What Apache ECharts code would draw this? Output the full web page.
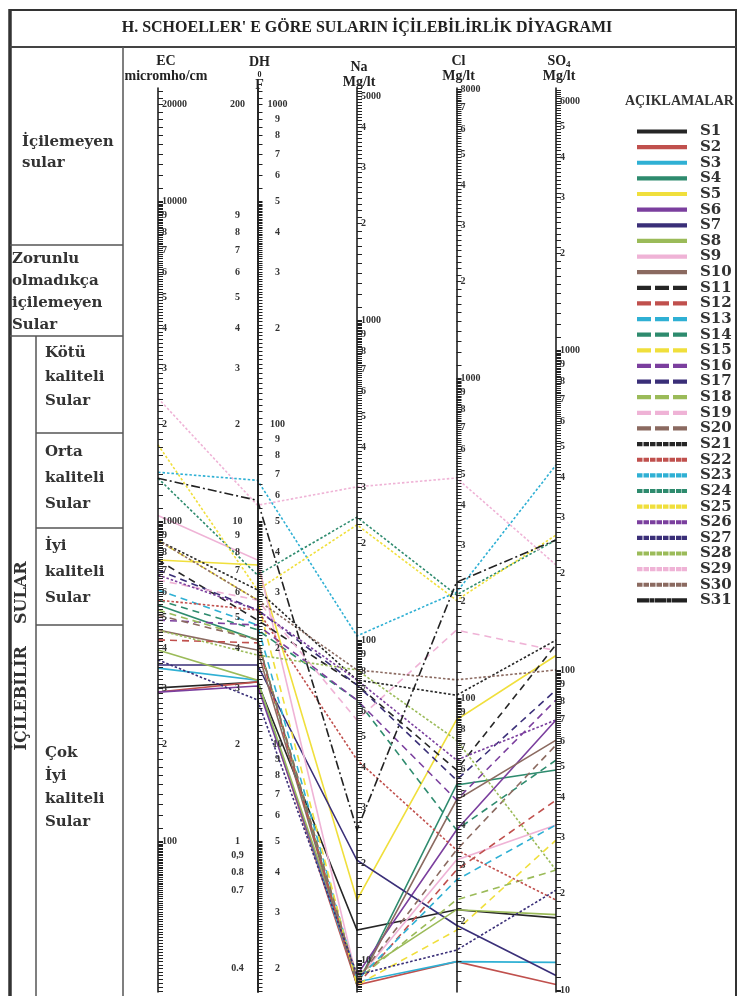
<!DOCTYPE html>
<html>
<head>
<meta charset="utf-8">
<title>Schoeller</title>
<script src="https://cdn.jsdelivr.net/npm/echarts@6.0.0/dist/echarts.min.js"></script>
<style>html,body{margin:0;padding:0;background:#fff;}#chart{width:737px;height:996px;}</style>
</head>
<body>
<div id="chart"></div>
<script>
// ---------------- data ----------------
const sampleNames = ['S1','S2','S3','S4','S5','S6','S7','S8','S9','S10',
  'S11','S12','S13','S14','S15','S16','S17','S18','S19','S20',
  'S21','S22','S23','S24','S25','S26','S27','S28','S29','S30','S31'];
const axisNames = ['EC', 'DH', 'Na', 'Cl', 'SO4'];
const ecValues  = [301,292,347,546,755,292,355,395,1040,456, 755,425,609,566,870,490,703,527,654,508, 870,566,1420,1360,1730,678,368,456,2420,870, 1360];
const dhValues  = [3.14,3.14,3.18,4.25,7.29,3.05,3.55,3.18,7.55,3.95, 4.90,4.16,4.73,4.57,5.66,4.73,5.27,4.25,5.66,4.25, 6.09,5.27,13.4,6.78,6.09,5.27,2.76,3.81,11.2,5.66, 11.6];
const naValues  = [12.4,8.35,8.54,8.35,15.4,8.98,20.5,8.98,8.66,8.35, 72.4,8.35,8.66,64.9,8.35,64.9,72.4,8.66,56.2,8.66, 75,42.2,103,242,229,75,8.98,80.6,301,80.6, 25.5];
const clValues  = [21.8,15.0,15.0,53.5,85.4,38.7,19.5,21.8,31.2,48.0, 59.6,29.0,27.0,38.7,18.8,48.0,55.4,23.4,163,33.5, 102,33.5,214,210,202,64.0,16.3,73.9,487,114, 230];
const so4Values = [16.8,10.4,12.2,48.7,111,69.8,11.1,17.2,32.8,60.4, 120,39.2,32.8,52.3,29.4,80.6,86.6,23.7,115,58.3, 124,19.1,437,255,264,69.8,20.5,23.7,213,100, 255];

// tick labels
const ecLabelValues = [20000,10000,9000,8000,7000,6000,5000,4000,3000,2000,1000,900,800,700,600,500,400,300,200,100];
const ecFullLabels = [20000,10000,1000,100];
const dhLeftValues = [200,90,80,70,60,50,40,30,20,10,9,8,7,6,5,4,3,2,1,0.9,0.8,0.7,0.4];
const dhLeftTexts  = ['200','9','8','7','6','5','4','3','2','10','9','8','7','6','5','4','3','2','1','0,9','0.8','0.7','0.4'];
const dhRightValues = [200,180,160,140,120,100,80,60,40,20,18,16,14,12,10,8,6,4,2,1.8,1.6,1.4,1.2,1,0.8,0.6,0.4];
const dhRightTexts  = ['1000','9','8','7','6','5','4','3','2','100','9','8','7','6','5','4','3','2','10','9','8','7','6','5','4','3','2'];
const naLabelValues = [5000,4000,3000,2000,1000,900,800,700,600,500,400,300,200,100,90,80,70,60,50,40,30,20,10];
const naFullLabels = [5000,1000,100,10];
const clLabelValues = [8000,7000,6000,5000,4000,3000,2000,1000,900,800,700,600,500,400,300,200,100,90,80,70,60,50,40,30,20];
const clFullLabels = [8000,1000,100];
const so4LabelValues = [6000,5000,4000,3000,2000,1000,900,800,700,600,500,400,300,200,100,90,80,70,60,50,40,30,20,10];
const so4FullLabels = [6000,1000,100,10];

// ---------------- styling / layout ----------------
const palette = ['#262626','#c0504d','#2fb0d4','#2e8b6e','#f0df3c','#7b3f9e','#3a2f78','#9bbb59','#efb3d6','#8b6a60'];
const DECADE = 320, TOP = 88, BOTTOM = 992;
function ext(refVal, refY) {
  return { min: refVal * Math.pow(10, -(BOTTOM - refY) / DECADE), max: refVal * Math.pow(10, (refY - TOP) / DECADE) };
}
const extents = [ext(1000, 521), ext(10, 521), ext(1000, 320), ext(1000, 378), ext(1000, 350)];

function logTicks(min, max) {
  const out = [];
  for (let e = Math.floor(Math.log10(min)) - 1; e <= Math.ceil(Math.log10(max)); e++) {
    const b = Math.pow(10, e);
    for (let k = 10; k < 100; k++) {
      const v = +(b * k / 10).toPrecision(6);
      if (v >= min && v <= max) out.push(v);
    }
  }
  return out;
}
function near(a, b) { return Math.abs(a - b) <= Math.abs(b) * 1e-6; }
function mantissaFormatter(fulls) {
  return function (v) {
    for (const f of fulls) if (near(v, f)) return String(f);
    const e = Math.floor(Math.log10(v) + 1e-9);
    return String(Math.round(v / Math.pow(10, e)));
  };
}
const dhLabelValues = Array.from(new Set(dhLeftValues.concat(dhRightValues))).sort((a, b) => b - a);
function dhFormatter(v) {
  let l = ' ', r = ' ';
  dhLeftValues.forEach((x, i) => { if (near(v, x)) l = dhLeftTexts[i]; });
  dhRightValues.forEach((x, i) => { if (near(v, x)) r = dhRightTexts[i]; });
  return '{l|' + l + '}{r|' + r + '}';
}

const serif = '"Liberation Serif", "DejaVu Serif", serif';
const labelFont = { fontFamily: serif, fontWeight: 'bold', fontSize: 10, color: '#333' };
const nameRich = {
  a: { fontFamily: serif, fontWeight: 'bold', fontSize: 14, lineHeight: 15, color: '#222' },
  s: { fontFamily: serif, fontWeight: 'bold', fontSize: 8, lineHeight: 9, color: '#222' },
  f: { fontFamily: serif, fontWeight: 'bold', fontSize: 14, lineHeight: 13, color: '#222' },
  b: { fontFamily: serif, fontWeight: 'bold', fontSize: 9, lineHeight: 15, color: '#222', verticalAlign: 'bottom' }
};

const labelSets = [
  { vals: ecLabelValues, fmt: mantissaFormatter(ecFullLabels) },
  { vals: dhLabelValues, fmt: dhFormatter },
  { vals: naLabelValues, fmt: mantissaFormatter(naFullLabels) },
  { vals: clLabelValues, fmt: mantissaFormatter(clFullLabels) },
  { vals: so4LabelValues, fmt: mantissaFormatter(so4FullLabels) }
];
const axisTitles = ['{a|EC}\n{a|micromho/cm}', '{a|DH}\n{s|0}\n{f|F}', '{a|Na}\n{a|Mg/lt}', '{a|Cl}\n{a|Mg/lt}', '{a|SO}{b|4}\n{a|Mg/lt}'];
const nameGaps = [4, -4, -2, 4, 4];
const namePads = [[0, 0, 0, 16], [0, 0, 0, 4], [0, 0, 0, 4], [0, 0, 0, 4], [0, 0, 0, 6]];

const parallelAxis = axisNames.map((n, i) => {
  const isDH = i === 1;
  return {
    dim: i, type: 'log', logBase: 10,
    min: extents[i].min, max: extents[i].max,
    name: axisTitles[i], nameLocation: 'end', nameGap: nameGaps[i], nameMoveOverlap: false,
    nameTextStyle: { rich: nameRich, padding: namePads[i], align: 'center' },
    axisLine: { show: true, lineStyle: { color: '#111', width: isDH ? 1.8 : 1.5 } },
    axisTick: { show: true, length: 5, lineStyle: { color: '#222', width: 1 }, customValues: logTicks(extents[i].min, extents[i].max) },
    axisLabel: isDH ? {
      show: true, margin: 0, align: 'center', customValues: labelSets[i].vals, formatter: labelSets[i].fmt,
      rich: {
        l: { fontFamily: serif, fontWeight: 'bold', fontSize: 10, color: '#333', width: 24, align: 'right', padding: [0, 6, 0, 0] },
        r: { fontFamily: serif, fontWeight: 'bold', fontSize: 10, color: '#333', width: 24, align: 'left', padding: [0, 0, 0, 10] }
      }
    } : Object.assign({ show: true, margin: 4, customValues: labelSets[i].vals, formatter: labelSets[i].fmt }, labelFont),
    splitLine: { show: false }
  };
});

function dashPath(segs) {
  let p = 'path://M0,0M48,10';
  segs.forEach(s => { p += 'M' + s[0] + ',3.9H' + s[1] + 'V6.1H' + s[0] + 'Z'; });
  return p;
}
const iconSolid = dashPath([[0, 48]]);
const iconDashed = dashPath([[0, 12], [18, 30], [36, 48]]);
const iconDotted = dashPath([[0, 3.5], [6.5, 10], [13, 16.5], [19.5, 23], [26, 29.5], [32.5, 36], [39, 42.5], [45, 48]]);
const iconDashDot = dashPath([[0, 10], [12.5, 15], [17.5, 27.5], [30, 32.5], [35, 45], [47, 48]]);
function styleOf(i) {
  if (i < 10) return { type: 'solid', icon: iconSolid };
  if (i < 20) return { type: [7, 5], icon: iconDashed };
  if (i < 30) return { type: [2.5, 2], icon: iconDotted };
  return { type: [9, 3, 2, 3], icon: iconDashDot };
}
function colorOf(i) { return i === 30 ? '#222' : palette[i % 10]; }

const series = sampleNames.map((name, i) => ({
  type: 'parallel', name: name, parallelIndex: 0, silent: true,
  color: colorOf(i),
  lineStyle: { color: colorOf(i), width: 1.6, type: styleOf(i).type, opacity: 1 },
  inactiveOpacity: 1, activeOpacity: 1, smooth: false,
  emphasis: { disabled: true },
  data: [[ecValues[i], dhValues[i], naValues[i], clValues[i], so4Values[i]]]
}));

const tableText = (text, x, y, lh, extra) => Object.assign({
  type: 'text', x: x, y: y, silent: true,
  style: { text: text, font: 'bold 15px "DejaVu Serif", serif', fill: '#333', align: 'left', verticalAlign: 'top', lineHeight: lh }
}, extra || {});
const hline = (x1, x2, y, w, c) => ({ type: 'line', silent: true, shape: { x1: x1, y1: y, x2: x2, y2: y }, style: { stroke: c || '#555', lineWidth: w || 1.5 } });
const vline = (x, y1, y2, w, c) => ({ type: 'line', silent: true, shape: { x1: x, y1: y1, x2: x, y2: y2 }, style: { stroke: c || '#555', lineWidth: w || 1.5 } });

const graphic = [
  { type: 'rect', silent: true, shape: { x: 10, y: 10, width: 726, height: 995 }, style: { fill: 'none', stroke: '#333', lineWidth: 2 } },
  vline(10, 9, 996, 3.5, '#333'),
  hline(10, 736, 47, 2, '#444'),
  vline(123, 47, 996, 1.5),
  hline(10, 123, 245, 1.5),
  hline(10, 123, 336, 1.5),
  vline(36, 336, 996, 1.5),
  hline(36, 123, 433, 1.5),
  hline(36, 123, 528, 1.5),
  hline(36, 123, 625, 1.5),
  { type: 'text', x: 367, y: 28, silent: true, style: { text: "H. SCHOELLER' E GÖRE SULARIN İÇİLEBİLİRLİK DİYAGRAMI", font: 'bold 16px "Liberation Serif", serif', fill: '#222', align: 'center', verticalAlign: 'middle' } },
  { type: 'text', x: 625, y: 101, silent: true, style: { text: 'AÇIKLAMALAR', font: 'bold 14px "Liberation Serif", serif', fill: '#333', align: 'left', verticalAlign: 'middle' } },
  tableText('İçilemeyen\nsular', 22, 132, 21),
  tableText('Zorunlu\nolmadıkça\niçilemeyen\nSular', 12, 248, 22),
  tableText('Kötü\nkaliteli\nSular', 45, 341, 24),
  tableText('Orta\nkaliteli\nSular', 45, 439, 26),
  tableText('İyi\nkaliteli\nSular', 45, 533, 26),
  tableText('Çok\nİyi\nkaliteli\nSular', 45, 742, 23),
  { type: 'text', x: 22, y: 656, rotation: Math.PI / 2, silent: true, style: { text: 'İÇİLEBİLİR    SULAR', font: 'bold 16px "DejaVu Serif", serif', fill: '#333', align: 'center', verticalAlign: 'middle' } }
];

const chart = echarts.init(document.getElementById('chart'), null, { renderer: 'canvas' });
chart.setOption({
  animation: false,
  backgroundColor: '#fff',
  parallel: { left: 158, right: 181, top: TOP, bottom: 996 - BOTTOM, layout: 'horizontal' },
  parallelAxis: parallelAxis,
  legend: {
    orient: 'vertical', left: 632, top: 119, itemWidth: 48, itemHeight: 10, itemGap: 0.63,
    selectedMode: false,
    textStyle: { fontFamily: '"DejaVu Serif", serif', fontWeight: 'bold', fontSize: 15, color: '#333', lineHeight: 10, padding: [0, 0, 0, 9] },
    data: sampleNames.map((n, i) => ({ name: n, icon: styleOf(i).icon, itemStyle: { color: colorOf(i) } }))
  },
  graphic: graphic,
  series: series
});
</script>
</body>
</html>
